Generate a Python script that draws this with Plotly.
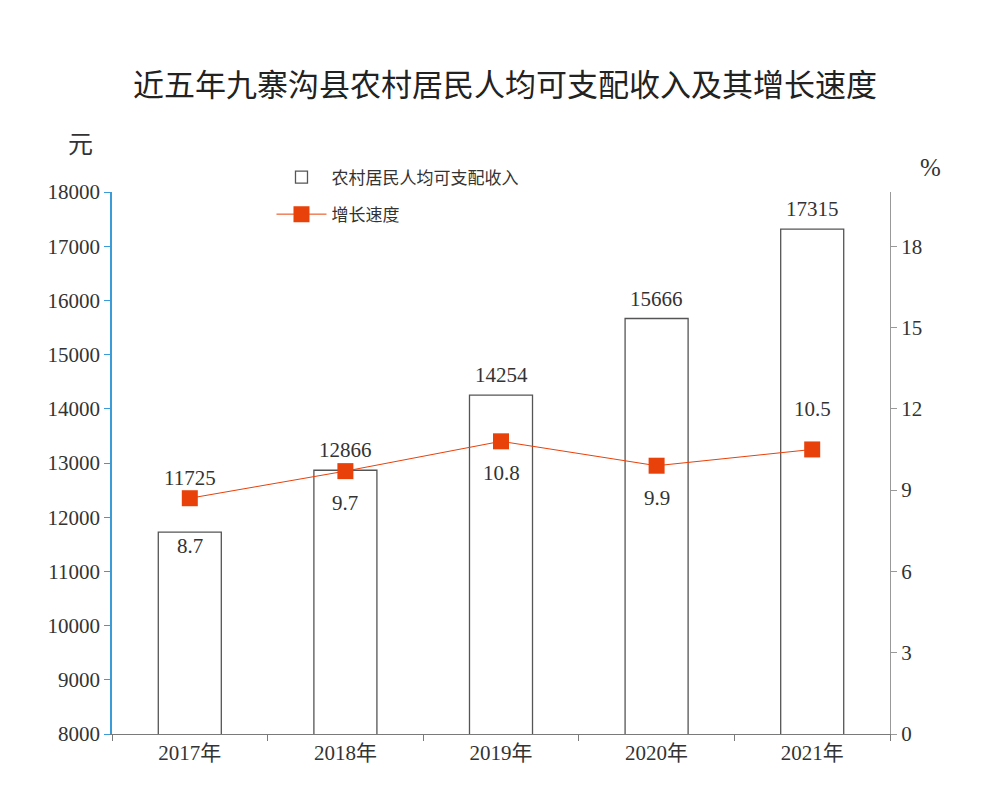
import plotly.graph_objects as go

# --- data ---
years = ["2017年", "2018年", "2019年", "2020年", "2021年"]
income = [11725, 12866, 14254, 15666, 17315]
growth = [8.7, 9.7, 10.8, 9.9, 10.5]

# label placement tweaks (pixels)
income_shift = [40, 6, 6, 6, 6]
growth_shift = [-48, -32, -32, -32, 40]

serif = "Liberation Serif, Noto Sans CJK SC, serif"
cjk = "Noto Sans CJK SC, sans-serif"
red = "#e8410a"
grey = "#7a7a7a"
blue = "#3a9bd8"

fig = go.Figure()

fig.add_trace(go.Bar(
    x=years, y=income, name="农村居民人均可支配收入",
    marker=dict(color="white", line=dict(color="#555555", width=1.3)),
    width=0.405, legendgroup="a", yaxis="y",
))

fig.add_trace(go.Scatter(
    x=years, y=growth, name="增长速度", yaxis="y2",
    mode="lines+markers",
    line=dict(color=red, width=1),
    marker=dict(symbol="square", size=16, color=red),
    legendgroup="b",
))

# value labels
for yr, v, s in zip(years, income, income_shift):
    fig.add_annotation(x=yr, y=v, yref="y", text=str(v), showarrow=False,
                       yanchor="bottom", yshift=s,
                       font=dict(family=serif, size=21, color="#333333"))
for yr, v, s in zip(years, growth, growth_shift):
    fig.add_annotation(x=yr, y=v, yref="y2", text=str(v), showarrow=False,
                       yanchor="middle", yshift=s,
                       font=dict(family=serif, size=21, color="#333333"))

# unit labels
fig.add_annotation(xref="paper", yref="paper", x=-0.059, y=1.129, text="元",
                   showarrow=False, font=dict(family=cjk, size=25, color="#333333"))
fig.add_annotation(xref="paper", yref="paper", x=1.068, y=1.074, text="%",
                   showarrow=False, font=dict(family=serif, size=25, color="#333333"))

fig.update_layout(
    width=985, height=792,
    margin=dict(l=104, r=103, t=184, b=66),
    paper_bgcolor="white", plot_bgcolor="white",
    title=dict(text="近五年九寨沟县农村居民人均可支配收入及其增长速度",
               x=0.5046, xanchor="center", y=0.903, yanchor="middle",
               font=dict(family=cjk, size=31, color="#222222")),
    showlegend=True,
    legend=dict(x=0.205, y=1.06, xanchor="left", yanchor="top",
                font=dict(family=cjk, size=17, color="#333333"),
                tracegroupgap=12, traceorder="grouped", itemwidth=50,
                bgcolor="rgba(0,0,0,0)"),
    xaxis=dict(
        showline=True, linecolor=grey, linewidth=1.3,
        ticks="outside", tickson="boundaries", ticklen=6, tickcolor=grey,
        tickfont=dict(family=serif, size=21, color="#333333"),
        showgrid=False,
    ),
    yaxis=dict(
        range=[8000, 18000], dtick=1000, tick0=8000, tickformat="d",
        showline=True, linecolor=blue, linewidth=1.5,
        ticks="outside", ticklen=6, tickcolor=blue,
        tickfont=dict(family=serif, size=21, color="#333333"),
        showgrid=False, zeroline=False,
    ),
    yaxis2=dict(
        range=[0, 20], dtick=3, tick0=0, overlaying="y", side="right",
        showline=True, linecolor="#999999", linewidth=1.3,
        ticks="outside", ticklen=6, tickcolor="#999999",
        tickfont=dict(family=serif, size=21, color="#333333"),
        showgrid=False, zeroline=False,
    ),
)

fig.write_html("out.html")
